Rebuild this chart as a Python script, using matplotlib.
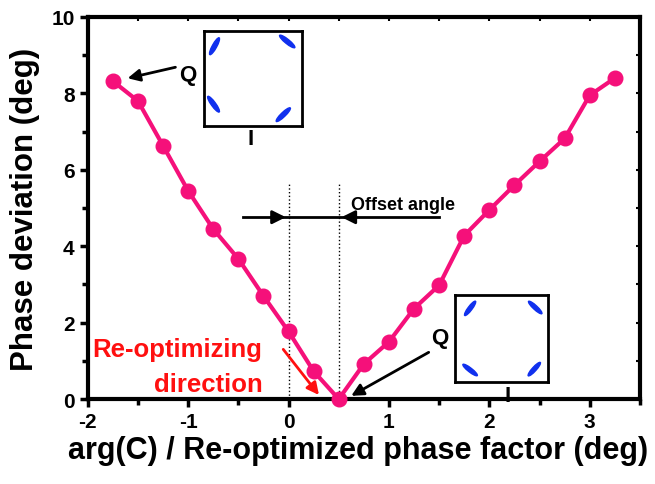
import matplotlib
matplotlib.use("Agg")
import matplotlib.pyplot as plt
from matplotlib.patches import Ellipse
from matplotlib.ticker import MultipleLocator

plt.rcParams['font.family'] = ['Liberation Sans', 'DejaVu Sans']
plt.rcParams['font.weight'] = 'bold'
plt.rcParams['axes.unicode_minus'] = False

# data
phase_factor = [-1.75, -1.5, -1.25, -1.0, -0.75, -0.5, -0.25, 0.0, 0.25, 0.5,
                0.75, 1.0, 1.25, 1.5, 1.75, 2.0, 2.25, 2.5, 2.75, 3.0, 3.25]
phase_dev = [8.32, 7.80, 6.63, 5.45, 4.45, 3.67, 2.70, 1.77, 0.73, 0.0,
             0.92, 1.50, 2.37, 2.98, 4.28, 4.95, 5.60, 6.22, 6.82, 7.95, 8.40]
x_ticks = [-2, -1, 0, 1, 2, 3]
y_ticks = [0, 2, 4, 6, 8, 10]
offset_lines = [0.0, 0.5]

# constellation blobs (center x, center y, angle) in inset axes coords
blobs_top = [(0.11, 0.84, 62), (0.85, 0.89, -40), (0.10, 0.23, -55), (0.81, 0.12, 45)]
blobs_bot = [(0.16, 0.85, 55), (0.86, 0.86, -45), (0.16, 0.14, -40), (0.85, 0.15, 50)]

pink = '#f5107a'
red = '#ff1010'

fig = plt.figure(figsize=(6.55, 4.85), dpi=100)
ax = fig.add_axes([0.134, 0.175, 0.843, 0.788])

ax.plot(phase_factor, phase_dev, '-o', color=pink, lw=3, ms=10.5, zorder=3, clip_on=False)

ax.set_xlim(-2, 3.5)
ax.set_ylim(0, 10)
ax.set_xticks(x_ticks)
ax.set_yticks(y_ticks)
ax.xaxis.set_minor_locator(MultipleLocator(0.5))
ax.yaxis.set_minor_locator(MultipleLocator(1))
ax.tick_params(which='both', direction='out', width=2.5, labelsize=15, top=False, right=False)
ax.tick_params(which='major', length=6)
ax.tick_params(which='minor', length=4)
for lab in ax.get_xticklabels() + ax.get_yticklabels():
    lab.set_fontweight('bold')
for s in ax.spines.values():
    s.set_linewidth(3)

# small inner ticks on the top and right spines
sec_x = ax.secondary_xaxis('top')
sec_x.set_xticks([v / 2 for v in range(-4, 8)])
sec_x.tick_params(direction='in', length=3, width=1.5, labeltop=False)
sec_x.spines['top'].set_visible(False)
sec_y = ax.secondary_yaxis('right')
sec_y.set_yticks(range(0, 11))
sec_y.tick_params(direction='in', length=3, width=1.5, labelright=False)
sec_y.spines['right'].set_visible(False)

ax.set_xlabel('arg(C) / Re-optimized phase factor (deg)', fontsize=22, fontweight='bold')
ax.set_ylabel('Phase deviation (deg)', fontsize=22.5, fontweight='bold', labelpad=8)
ax.xaxis.set_label_coords(0.49, -0.095)

# offset angle marks
for xv in offset_lines:
    ax.plot([xv, xv], [0, 5.65], ls=':', color='black', lw=1, zorder=2)
ax.plot([-0.45, 1.5], [4.76, 4.76], color='black', lw=2, zorder=2)
ax.annotate('', xy=(0.0, 4.76), xytext=(-0.2, 4.76),
            arrowprops=dict(arrowstyle='-|>', color='black', lw=2, mutation_scale=20))
ax.annotate('', xy=(0.5, 4.76), xytext=(0.7, 4.76),
            arrowprops=dict(arrowstyle='-|>', color='black', lw=2, mutation_scale=20))
ax.text(0.62, 5.1, 'Offset angle', fontsize=13, fontweight='bold', va='center', ha='left')

# Q labels with arrows
ax.text(-1.0, 8.5, 'Q', fontsize=16, fontweight='bold', ha='center', va='center')
ax.annotate('', xy=(-1.63, 8.38), xytext=(-1.1, 8.7),
            arrowprops=dict(arrowstyle='-|>', color='black', lw=2, mutation_scale=18))
ax.text(1.51, 1.6, 'Q', fontsize=16, fontweight='bold', ha='center', va='center')
ax.annotate('', xy=(0.6, 0.05), xytext=(1.42, 1.26),
            arrowprops=dict(arrowstyle='-|>', color='black', lw=2, mutation_scale=18))

# re-optimizing direction
ax.text(-0.26, 1.12, 'Re-optimizing', fontsize=18.5, fontweight='bold', color=red,
        ha='right', va='baseline')
ax.text(-0.26, 0.2, 'direction', fontsize=18.5, fontweight='bold', color=red,
        ha='right', va='baseline')
ax.annotate('', xy=(0.32, 0.05), xytext=(-0.07, 1.36),
            arrowprops=dict(arrowstyle='-|>', color=red, lw=2, mutation_scale=18))


def draw_inset(rect, blobs):
    ins = fig.add_axes(rect)
    ins.set_xlim(0, 1)
    ins.set_ylim(0, 1)
    ins.set_xticks([])
    ins.set_yticks([])
    for s in ins.spines.values():
        s.set_linewidth(2)
    for cx, cy, ang in blobs:
        ins.add_patch(Ellipse((cx, cy), 0.2, 0.045, angle=ang, color='#1030ee'))
    return ins


draw_inset([0.311, 0.738, 0.150, 0.196], blobs_top)
fig.text(0.382, 0.712, 'I', fontsize=16, fontweight='bold', ha='center', va='center')
draw_inset([0.695, 0.210, 0.142, 0.179], blobs_bot)
fig.text(0.775, 0.183, 'I', fontsize=16, fontweight='bold', ha='center', va='center')

fig.savefig('out.png', dpi=100)
